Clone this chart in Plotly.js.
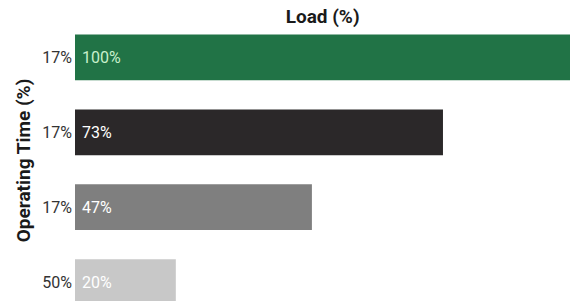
<!DOCTYPE html>
<html>
<head>
<meta charset="utf-8">
<script src="https://cdn.plot.ly/plotly-3.0.1.min.js"></script>
<style>html,body{margin:0;padding:0;background:#fff;}#chart{width:570px;height:301px;}</style>
</head>
<body>
<div id="chart"></div>
<script>
var operatingTime = ["17%", "17%", "17%", "50%"];
var loadValues = [100, 73, 47, 20];
var barLabels = ["100%", "73%", "47%", "20%"];
var barColors = ["#217346", "#2b2829", "#7f7f7f", "#c8c8c8"];
var labelColors = ["#c8f0cc", "#ffffff", "#ffffff", "#ffffff"];

var positions = operatingTime.map(function (_, i) { return i; });
var FONT = "Roboto, 'Open Sans', sans-serif";

var trace = {
  type: "bar",
  orientation: "h",
  x: loadValues,
  y: positions,
  width: 0.61,
  marker: { color: barColors, line: { width: 0 } },
  text: barLabels,
  texttemplate: "\u00a0%{text}",
  textposition: "inside",
  insidetextanchor: "start",
  textfont: { family: FONT, size: 16, color: labelColors },
  hoverinfo: "none"
};

var layout = {
  width: 570,
  height: 301,
  margin: { l: 75, r: 0, t: 20, b: 0 },
  paper_bgcolor: "#ffffff",
  plot_bgcolor: "#ffffff",
  showlegend: false,
  title: {
    text: "<b>Load (%)</b>",
    font: { family: FONT, size: 19, color: "#1a1a1a" },
    x: 0.566, xanchor: "center",
    yref: "container",
    y: 0.947, yanchor: "middle"
  },
  xaxis: {
    range: [0, 98.2],
    visible: false,
    showgrid: false,
    zeroline: false
  },
  yaxis: {
    range: [3.253, -0.5],
    tickmode: "array",
    tickvals: positions,
    ticktext: operatingTime,
    showgrid: false,
    zeroline: false,
    showline: false,
    ticks: "",
    ticklabelstandoff: 2,
    tickfont: { family: FONT, size: 16, color: "#333333" },
    title: {
      text: "<b>Operating Time (%)</b>",
      font: { family: FONT, size: 19, color: "#1a1a1a" },
      standoff: 6
    }
  }
};

Plotly.newPlot("chart", [trace], layout, { staticPlot: true, displayModeBar: false });
</script>
</body>
</html>
